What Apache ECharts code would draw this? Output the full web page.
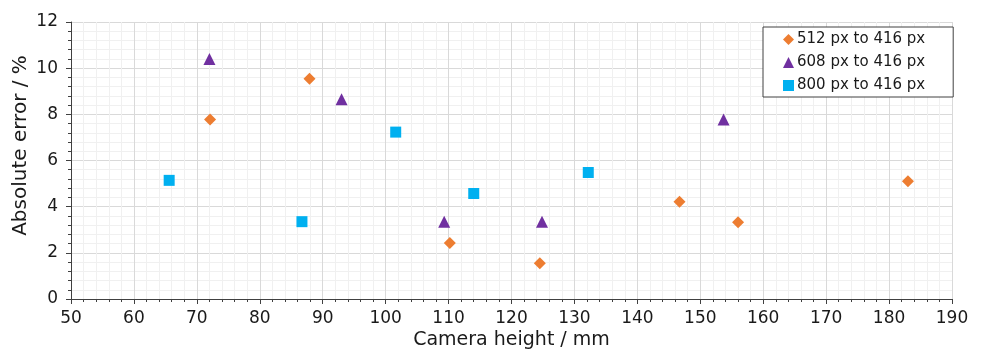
<!DOCTYPE html>
<html>
<head>
<meta charset="utf-8">
<script src="https://cdn.jsdelivr.net/npm/echarts@6/dist/echarts.min.js"></script>
<style>html,body{margin:0;padding:0;background:#fff}#c{width:982px;height:358px}</style>
</head>
<body>
<div id="c"></div>
<script>
const seriesNames = ['512 px to 416 px', '608 px to 416 px', '800 px to 416 px'];
const s512 = [[72.1, 7.78], [87.9, 9.54], [110.2, 2.43], [124.5, 1.55], [146.7, 4.21], [156.0, 3.33], [183.0, 5.10]];
const s608 = [[72.0, 10.40], [93.0, 8.65], [109.3, 3.35], [124.85, 3.35], [153.7, 7.78]];
const s800 = [[65.6, 5.14], [86.7, 3.35], [101.6, 7.23], [114.0, 4.57], [132.2, 5.48]];
const xTicks = {min: 50, max: 190, interval: 10};
const yTicks = {min: 0, max: 12, interval: 2};

const font = 'DejaVu Sans';
const chart = echarts.init(document.getElementById('c'), null, {renderer: 'canvas'});
const axisCommon = {
  axisLine: {show: true, lineStyle: {color: '#404040', width: 1}},
  axisTick: {show: true, length: 5, lineStyle: {color: '#404040'}},
  minorTick: {show: true, splitNumber: 5, length: 3, lineStyle: {color: '#404040'}},
  splitLine: {show: true, lineStyle: {color: '#d9d9d9', width: 1}},
  minorSplitLine: {show: true, lineStyle: {color: '#f0f0f0', width: 1}},
  axisLabel: {color: '#1a1a1a', fontFamily: font, fontSize: 17},
  nameTextStyle: {color: '#1a1a1a', fontFamily: font, fontSize: 19}
};
chart.setOption({
  animation: false,
  grid: {left: 71, right: 30, top: 22, bottom: 59, containLabel: false, outerBoundsMode: 'none'},
  xAxis: Object.assign({}, axisCommon, {
    type: 'value', min: xTicks.min, max: xTicks.max, interval: xTicks.interval,
    name: 'Camera height / mm', nameLocation: 'middle', nameGap: 32, nameMoveOverlap: false,
    axisLabel: Object.assign({}, axisCommon.axisLabel, {margin: 11})
  }),
  yAxis: Object.assign({}, axisCommon, {
    type: 'value', min: yTicks.min, max: yTicks.max, interval: yTicks.interval,
    name: 'Absolute error / %', nameLocation: 'middle', nameGap: 40, nameMoveOverlap: false,
    nameTextStyle: {color: '#1a1a1a', fontFamily: font, fontSize: 20, padding: [0, 0, 0, 30]},
    axisLabel: Object.assign({}, axisCommon.axisLabel, {margin: 13})
  }),
  legend: {
    orient: 'vertical', left: 763, top: 27,
    backgroundColor: '#fff', borderColor: '#404040', borderWidth: 1,
    padding: [5, 28, 4, 20], itemGap: 8, itemWidth: 11, itemHeight: 11,
    textStyle: {fontFamily: font, fontSize: 15, color: '#1a1a1a', padding: [0, 0, 0, -2]},
    data: [
      {name: seriesNames[0], icon: 'diamond'},
      {name: seriesNames[1], icon: 'triangle'},
      {name: seriesNames[2], icon: 'rect'}
    ]
  },
  series: [
    {name: seriesNames[0], type: 'scatter', data: s512, symbol: 'diamond', symbolSize: 12, itemStyle: {color: '#ED7D31', opacity: 1}},
    {name: seriesNames[1], type: 'scatter', data: s608, symbol: 'triangle', symbolSize: 12, itemStyle: {color: '#7030A0', opacity: 1}},
    {name: seriesNames[2], type: 'scatter', data: s800, symbol: 'rect', symbolSize: 11, itemStyle: {color: '#00B0F0', opacity: 1}}
  ]
});
</script>
</body>
</html>
